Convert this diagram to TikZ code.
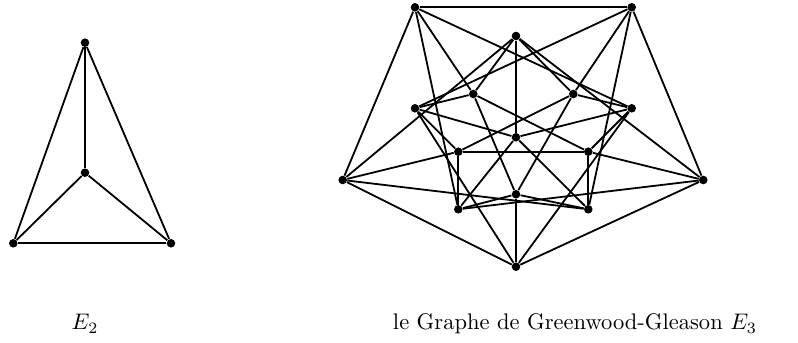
\documentclass[tikz,border=0pt]{standalone}
\begin{document}
\begin{tikzpicture}[x=0.444pt,y=-0.444pt,
  vtx/.style={circle,fill=black,inner sep=0pt,minimum size=3.8pt},
  edge/.style={line width=0.8pt},
  lab/.style={anchor=base,inner sep=0pt}]
\useasboundingbox (0,0) rectangle (798,343);
% E2
\node[vtx] (t) at (85,42.7) {};
\node[vtx] (m) at (85,172.7) {};
\node[vtx] (l) at (13.3,243.3) {};
\node[vtx] (r) at (171,243.3) {};
\foreach \a/\b in {t/m,t/l,t/r,m/l,m/r,l/r} \draw[edge] (\a) -- (\b);
% E3
\node[vtx] (A1) at (415,7.3) {};
\node[vtx] (A2) at (631.7,7.3) {};
\node[vtx] (A3) at (342.7,180) {};
\node[vtx] (A4) at (703.3,180) {};
\node[vtx] (A5) at (516,266.7) {};
\node[vtx] (B1) at (516,36) {};
\node[vtx] (B2) at (415,108.3) {};
\node[vtx] (B3) at (631.7,108.3) {};
\node[vtx] (B4) at (458.3,209.3) {};
\node[vtx] (B5) at (588.3,209.3) {};
\node[vtx] (C1) at (473.3,94) {};
\node[vtx] (C2) at (573.3,94) {};
\node[vtx] (C3) at (516,137.3) {};
\node[vtx] (C4) at (458.3,151.7) {};
\node[vtx] (C5) at (588.3,151.7) {};
\node[vtx] (C6) at (516,194.3) {};
\foreach \a/\b in {A1/A2,A1/A3,A1/B3,A1/B4,A1/C1,
  A2/A4,A2/B2,A2/B5,A2/C2,
  A3/A5,A3/B1,A3/B5,A3/C4,
  A4/A5,A4/B1,A4/B4,A4/C5,
  A5/B2,A5/B3,A5/C6,
  B1/C1,B1/C2,B1/C3,
  B2/C1,B2/C3,B2/C4,
  B3/C2,B3/C3,B3/C5,
  B4/C3,B4/C4,B4/C6,
  B5/C3,B5/C5,B5/C6,
  C1/C5,C1/C6,C2/C4,C2/C6,C4/C5}
  \draw[edge] (\a) -- (\b);
\node[lab] (L1) at (85,330) {$E_2$};
\node[lab] (L2) at (575,330) {le Graphe de Greenwood-Gleason $E_3$};
\end{tikzpicture}
\end{document}
